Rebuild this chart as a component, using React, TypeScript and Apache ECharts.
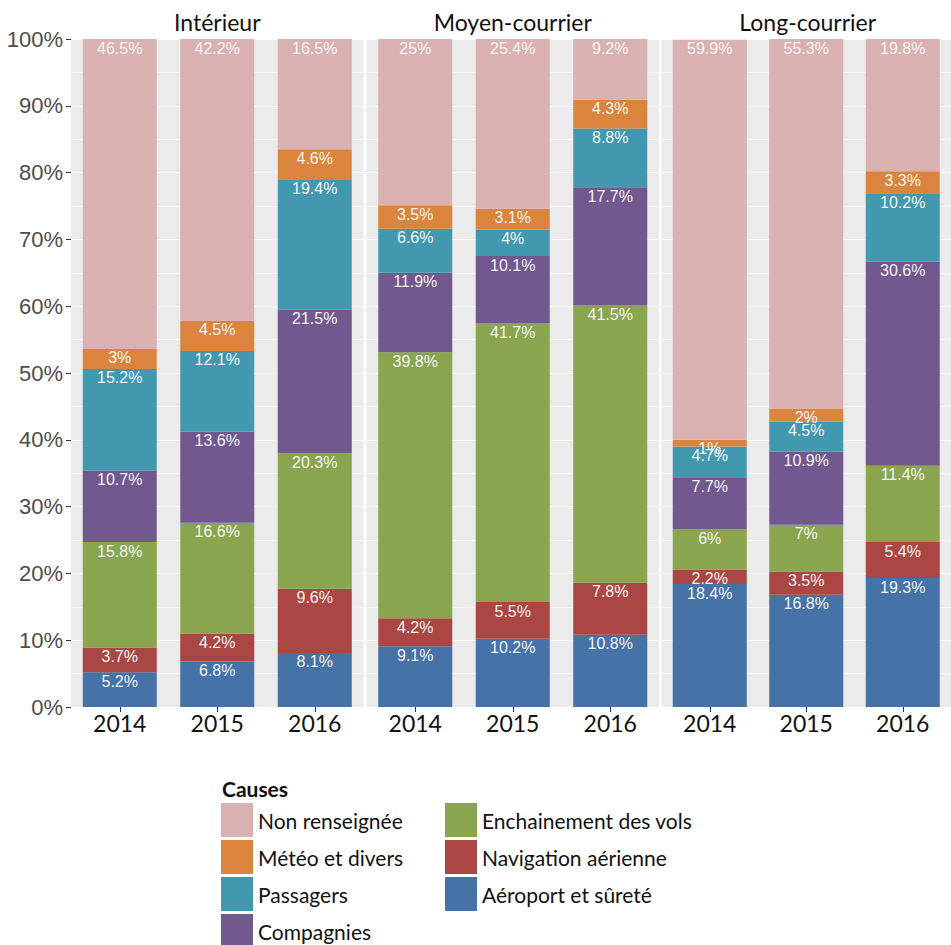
import React, { useEffect, useRef } from 'react';
import * as echarts from 'echarts';

const years = ['2014', '2015', '2016'];
const facets = ['Intérieur', 'Moyen-courrier', 'Long-courrier'];

// Stack order, bottom to top
const causes = [
  'Aéroport et sûreté',
  'Navigation aérienne',
  'Enchainement des vols',
  'Compagnies',
  'Passagers',
  'Météo et divers',
  'Non renseignée',
];
const causeColors = ['#4572A7', '#AA4643', '#89A54E', '#71588F', '#4198AF', '#DB843D', '#D9B1B1'];

// Values (%) per facet [Intérieur, Moyen-courrier, Long-courrier], each per year [2014, 2015, 2016]
const aeroportSurete = [[5.2, 6.8, 8.1], [9.1, 10.2, 10.8], [18.4, 16.8, 19.3]];
const navigationAerienne = [[3.7, 4.2, 9.6], [4.2, 5.5, 7.8], [2.2, 3.5, 5.4]];
const enchainementVols = [[15.8, 16.6, 20.3], [39.8, 41.7, 41.5], [6, 7, 11.4]];
const compagnies = [[10.7, 13.6, 21.5], [11.9, 10.1, 17.7], [7.7, 10.9, 30.6]];
const passagers = [[15.2, 12.1, 19.4], [6.6, 4, 8.8], [4.7, 4.5, 10.2]];
const meteoDivers = [[3, 4.5, 4.6], [3.5, 3.1, 4.3], [1, 2, 3.3]];
const nonRenseignee = [[46.5, 42.2, 16.5], [25, 25.4, 9.2], [59.9, 55.3, 19.8]];

const causeValues = [aeroportSurete, navigationAerienne, enchainementVols, compagnies, passagers, meteoDivers, nonRenseignee];

const legendTitle = 'Causes';
const legendCol1 = ['Non renseignée', 'Météo et divers', 'Passagers', 'Compagnies'];
const legendCol2 = ['Enchainement des vols', 'Navigation aérienne', 'Aéroport et sûreté'];

const yMin = 0;
const yMax = 100;
const yInterval = 10;

// layout
const PANEL_LEFT = [71, 366.5, 661.5];
const PANEL_W = 292.5;
const PANEL_TOP = 39;
const PANEL_H = 668;
const SANS = 'Lato, "Open Sans", sans-serif';
const ARIAL = '"Liberation Sans", Arial, sans-serif';

export default function App() {
  const ref = useRef<HTMLDivElement>(null);

  useEffect(() => {
    if (!ref.current) return;
    const chart = echarts.init(ref.current, null, { renderer: 'svg' });

    const grids = facets.map((_, i) => ({
      left: PANEL_LEFT[i],
      top: PANEL_TOP,
      width: PANEL_W,
      height: PANEL_H,
      show: true,
      backgroundColor: '#EBEBEB',
      borderWidth: 0,
      borderColor: 'transparent',
      containLabel: false,
    }));

    const xAxes = facets.map((_, i) => ({
      type: 'category',
      gridIndex: i,
      data: years,
      axisLine: { show: false },
      axisTick: { show: true, alignWithLabel: true, length: 5, lineStyle: { color: '#333', width: 1 } },
      axisLabel: { fontFamily: SANS, fontSize: 23, color: '#111', margin: 4 },
      splitLine: { show: false },
    }));

    const yAxes = facets.map((_, i) => ({
      type: 'value',
      gridIndex: i,
      min: yMin,
      max: yMax,
      interval: yInterval,
      axisLine: { show: false },
      axisTick: { show: i === 0, length: 5, lineStyle: { color: '#333', width: 1 } },
      axisLabel: {
        show: i === 0,
        formatter: '{value}%',
        fontFamily: ARIAL,
        fontSize: 22,
        color: '#4D4D4D',
        margin: 8,
      },
      splitLine: { show: true, lineStyle: { color: '#FFFFFF', width: 1.2 } },
      minorTick: { show: false, splitNumber: 2 },
      minorSplitLine: { show: true, lineStyle: { color: '#FFFFFF', width: 0.6 } },
    }));

    const series: any[] = [];
    facets.forEach((_, fi) => {
      causes.forEach((cause, ci) => {
        series.push({
          type: 'bar',
          name: cause,
          xAxisIndex: fi,
          yAxisIndex: fi,
          stack: 'facet' + fi,
          barWidth: 74,
          data: causeValues[ci][fi],
          itemStyle: { color: causeColors[ci] },
          label: {
            show: true,
            position: 'insideTop',
            distance: 1,
            formatter: (p: any) => p.value + '%',
            fontFamily: ARIAL,
            fontSize: 16,
            color: '#F4F4F4',
          },
          emphasis: { disabled: true },
        });
      });
    });

    const legendCommon = {
      orient: 'vertical',
      top: 803,
      height: 200,
      itemWidth: 32,
      itemHeight: 34,
      itemGap: 3,
      icon: 'rect',
      padding: 0,
      textStyle: { fontFamily: SANS, fontSize: 21, color: '#111' },
      selectedMode: false,
    };

    const graphics: any[] = facets.map((f, i) => ({
      type: 'text',
      x: PANEL_LEFT[i] + PANEL_W / 2,
      y: 22,
      style: {
        text: f,
        fontFamily: SANS,
        fontSize: 23,
        fill: '#111',
        textAlign: 'center',
        textVerticalAlign: 'middle',
      },
    }));
    graphics.push({
      type: 'text',
      x: 222,
      y: 788,
      style: {
        text: legendTitle,
        fontFamily: SANS,
        fontWeight: 'bold',
        fontSize: 21,
        fill: '#111',
        textAlign: 'left',
        textVerticalAlign: 'middle',
      },
    });

    chart.setOption({
      animation: false,
      backgroundColor: '#FFFFFF',
      grid: grids,
      xAxis: xAxes,
      yAxis: yAxes,
      series,
      legend: [
        { ...legendCommon, left: 221, data: legendCol1 },
        { ...legendCommon, left: 445, data: legendCol2 },
      ],
      graphic: graphics,
    });

    return () => chart.dispose();
  }, []);

  return (
    <div
      ref={ref}
      style={{ position: 'absolute', left: 0, top: 0, width: 951, height: 945 }}
    />
  );
}
